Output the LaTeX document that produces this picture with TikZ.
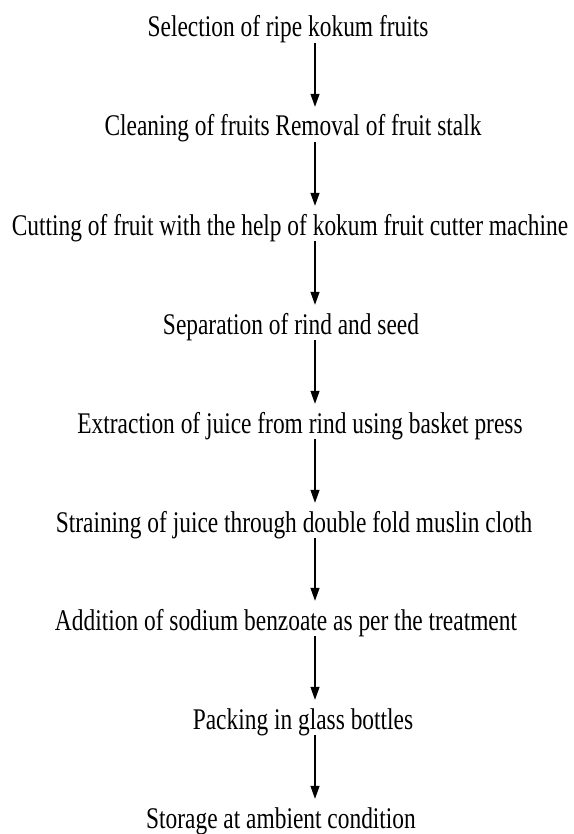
\documentclass[tikz,border=0pt]{standalone}
\usepackage{fontspec}
\setmainfont{Liberation Serif}
\newfontfamily\stagefont[FakeStretch=0.78]{Liberation Serif}
\usepackage{tikz}
\usetikzlibrary{arrows.meta}
\tikzstyle{stage}=[inner sep=0pt, anchor=base, text height=20pt, text depth=6pt, font=\stagefont\fontsize{30}{34}\selectfont]
\tikzstyle{flow}=[-{Triangle[length=13pt,width=9pt]}, line width=1.3pt, shorten >=9pt]

\begin{document}
\begin{tikzpicture}[x=1pt,y=1pt]
            \useasboundingbox (0,0) rectangle (573,-834);
            \coordinate (ax) at (315,0);
            \node [stage] (sel) at (288,-37) {Selection of ripe kokum fruits};
            \node [stage] (cln) at (293,-136) {Cleaning of fruits Removal of fruit stalk};
            \node [stage] (cut) at (290,-235) {Cutting of fruit with the help of kokum fruit cutter machine};
            \node [stage] (sep) at (291,-334) {Separation of rind and seed};
            \node [stage] (ext) at (300,-433) {Extraction of juice from rind using basket press};
            \node [stage] (str) at (294,-532) {Straining of juice through double fold muslin cloth};
            \node [stage] (add) at (286,-630) {Addition of sodium benzoate as per the treatment};
            \node [stage] (pak) at (303,-729) {Packing in glass bottles};
            \node [stage] (sto) at (281,-828) {Storage at ambient condition};
            \draw[flow] (sel.south -| ax) -- (cln.north -| ax);
            \draw[flow] (cln.south -| ax) -- (cut.north -| ax);
            \draw[flow] (cut.south -| ax) -- (sep.north -| ax);
            \draw[flow] (sep.south -| ax) -- (ext.north -| ax);
            \draw[flow] (ext.south -| ax) -- (str.north -| ax);
            \draw[flow] (str.south -| ax) -- (add.north -| ax);
            \draw[flow] (add.south -| ax) -- (pak.north -| ax);
            \draw[flow] (pak.south -| ax) -- (sto.north -| ax);
        \end{tikzpicture}
\end{document}
